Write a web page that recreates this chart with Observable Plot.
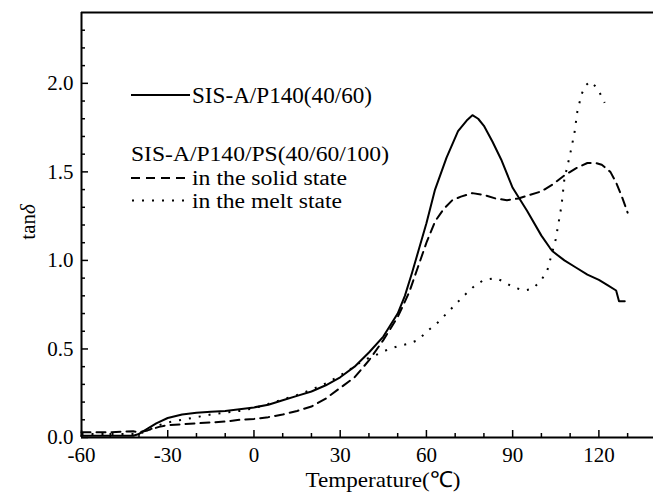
<!DOCTYPE html>
<html><head><meta charset="utf-8">
<script src="https://cdn.jsdelivr.net/npm/d3@7"></script>
<script src="https://cdn.jsdelivr.net/npm/@observablehq/plot@0.6"></script>
<style>body{margin:0;background:#fff} svg{display:block} svg text{font-family:"Liberation Serif","Times New Roman",serif !important;}</style>
</head><body><div id="chart"></div>
<script>
// SIS-A/P140(40/60) — solid line
const solidT = [-60,-50,-42,-40,-37,-34,-30,-25,-20,-15,-10,-5,0,5,10,15,20,25,30,35,40,45,50,52.5,55,57.5,60,63,67,71,74,76,78,80,83,86,90,95,100,103,104,108,112,116,120,123,126,127,129];
const solidV = [0.01,0.01,0.01,0.02,0.05,0.08,0.11,0.13,0.14,0.145,0.15,0.16,0.17,0.185,0.21,0.235,0.26,0.295,0.34,0.40,0.48,0.57,0.70,0.80,0.93,1.07,1.21,1.40,1.58,1.73,1.79,1.82,1.80,1.76,1.67,1.57,1.41,1.28,1.14,1.07,1.05,1.00,0.96,0.92,0.89,0.86,0.83,0.77,0.77];
// SIS-A/P140/PS(40/60/100) in the solid state — dashed
const dashT = [-60,-50,-42,-40,-37,-33,-30,-25,-20,-15,-10,-5,0,5,10,15,20,25,30,35,40,45,50,54,57,60,63,66,69,72,76,80,84,88,92,96,100,104,108,112,116,119,121,124,126,128,130];
const dashV = [0.03,0.03,0.035,0.03,0.04,0.06,0.07,0.075,0.08,0.085,0.09,0.10,0.105,0.115,0.13,0.15,0.175,0.22,0.28,0.34,0.435,0.55,0.68,0.82,0.96,1.10,1.22,1.29,1.34,1.36,1.38,1.37,1.35,1.34,1.35,1.37,1.39,1.43,1.48,1.52,1.55,1.55,1.54,1.50,1.44,1.36,1.27];
// SIS-A/P140/PS(40/60/100) in the melt state — dotted
const dotT = [-60,-50,-42,-40,-37,-33,-30,-25,-20,-15,-10,-5,0,5,10,15,20,25,30,34,37,40,43,47,50,54,57,61,64,67,70,73,77,80,84,87,90,94,97,100,102,103,105,107,108,110,111.5,112.5,114,115.5,117,119,120.5,122];
const dotV = [0.02,0.02,0.02,0.02,0.04,0.07,0.085,0.10,0.115,0.13,0.14,0.15,0.165,0.19,0.215,0.24,0.27,0.305,0.35,0.39,0.425,0.45,0.47,0.50,0.515,0.53,0.55,0.61,0.65,0.70,0.75,0.80,0.86,0.89,0.90,0.88,0.85,0.83,0.84,0.89,0.94,1.00,1.12,1.31,1.46,1.60,1.72,1.84,1.94,1.99,2.01,1.98,1.94,1.89];

const xMajor = [-60,-30,0,30,60,90,120];
const xMinor = [-50,-40,-20,-10,10,20,40,50,70,80,100,110,130];
const yMajor = [0,0.5,1.0,1.5,2.0];
const yMinor = [0.1,0.2,0.3,0.4,0.6,0.7,0.8,0.9,1.1,1.2,1.3,1.4,1.6,1.7,1.8,1.9,2.1,2.2,2.3];
const xLabel = "Temperature(℃)";
const legendItems = ["SIS-A/P140(40/60)", "SIS-A/P140/PS(40/60/100)", "in the solid state", "in the melt state"];

const toRows = (T, V) => T.map((t, i) => ({T: t, v: V[i]}));
const solid = toRows(solidT, solidV), dashed = toRows(dashT, dashV), dotted = toRows(dotT, dotV);

const W = 653, H = 498, mL = 81, mR = 0, mT = 12, mB = 61;
const plotW = W - mL - mR, plotH = H - mT - mB;
const font = '"Liberation Serif", "Times New Roman", serif';

const svg = Plot.plot({
  width: W, height: H,
  marginLeft: mL, marginRight: mR, marginTop: mT, marginBottom: mB,
  x: {domain: [-60, 139]},
  y: {domain: [0, 2.4]},
  style: {fontFamily: font, fontSize: "21px", color: "#000", background: "#fff", overflow: "visible"},
  marks: [
    Plot.axisX(xMajor, {tickSize: 0, tickPadding: 10, tickFormat: d => String(d), label: null, fontSize: 21}),
    Plot.axisY(yMajor, {tickSize: 0, tickPadding: 8, tickFormat: d => d.toFixed(1), label: null, fontSize: 21}),
    Plot.ruleX(xMajor, {insetTop: plotH - 7, strokeWidth: 1.5}),
    Plot.ruleX(xMinor, {insetTop: plotH - 4, strokeWidth: 1.5}),
    Plot.ruleY(yMajor, {insetRight: plotW - 7, strokeWidth: 1.5}),
    Plot.ruleY(yMinor, {insetRight: plotW - 4, strokeWidth: 1.5}),
    Plot.line(dotted, {x: "T", y: "v", strokeWidth: 2, strokeDasharray: "2,8", strokeLinecap: "butt"}),
    Plot.line(dashed, {x: "T", y: "v", strokeWidth: 2, strokeDasharray: "9,6"}),
    Plot.line(solid, {x: "T", y: "v", strokeWidth: 2}),
    Plot.ruleY([0], {strokeWidth: 2}),
    Plot.ruleY([2.4], {strokeWidth: 2}),
    Plot.ruleX([-60], {strokeWidth: 2})
  ]
});

const s = d3.select(svg);
// axis titles
s.append("text").attr("x", 383).attr("y", 487).attr("text-anchor", "middle")
  .attr("font-size", 22).attr("fill", "#000")
  .attr("textLength", 155).attr("lengthAdjust", "spacingAndGlyphs").text(xLabel);
const yl = s.append("text").attr("transform", "translate(35,222) rotate(-90)").attr("text-anchor", "middle")
  .attr("font-size", 21).attr("fill", "#000");
yl.append("tspan").text("tan");
yl.append("tspan").attr("font-style", "italic").text("δ");

// legend
const lg = s.append("g").attr("font-size", 23).attr("fill", "#000").attr("text-anchor", "start");
const lt = (x, y, str, len, fs) => lg.append("text").attr("x", x).attr("y", y).attr("font-size", fs)
  .attr("textLength", len).attr("lengthAdjust", "spacingAndGlyphs").text(str);
lg.append("line").attr("x1", 131).attr("x2", 190).attr("y1", 95).attr("y2", 95).attr("stroke", "#000").attr("stroke-width", 2);
lt(192, 103, legendItems[0], 180, 23);
lt(131, 161, legendItems[1], 258, 22);
lg.append("line").attr("x1", 131).attr("x2", 188).attr("y1", 178).attr("y2", 178).attr("stroke", "#000").attr("stroke-width", 2).attr("stroke-dasharray", "9,6");
lt(192, 184.5, legendItems[2], 155, 20.5);
lg.append("line").attr("x1", 132).attr("x2", 188).attr("y1", 200.5).attr("y2", 200.5).attr("stroke", "#000").attr("stroke-width", 2).attr("stroke-dasharray", "2,8");
lt(192, 207.5, legendItems[3], 150, 20.5);

document.getElementById("chart").appendChild(svg);
</script></body></html>
